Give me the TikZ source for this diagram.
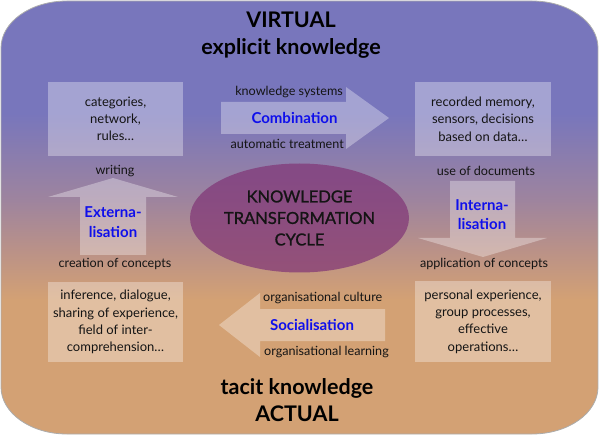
\documentclass[tikz,border=0pt]{standalone}
\usepackage{fontspec}
\setmainfont{Lato}
\newfontfamily\medfont{Lato}[FakeBold=1.2]
\usetikzlibrary{shapes.geometric}
\definecolor{bgA}{RGB}{120,118,188}
\definecolor{bgB}{RGB}{158,132,158}
\definecolor{bgC}{RGB}{187,146,135}
\definecolor{bgD}{RGB}{211,161,116}
\definecolor{txt}{RGB}{20,20,20}
\definecolor{lblue}{RGB}{15,15,235}
\definecolor{ellc}{RGB}{128,52,118}
\pgfdeclareverticalshading{bgshade}{100bp}{color(0bp)=(bgD); color(25bp)=(bgD); color(40.5bp)=(bgD); color(46bp)=(bgC); color(52bp)=(bgB); color(62bp)=(bgA); color(75bp)=(bgA); color(100bp)=(bgA)}
\begin{document}
\begin{tikzpicture}[x=1pt,y=-1pt,
  boxst/.style={fill=white, fill opacity=0.33, text opacity=1, draw=none, text=txt,
    align=center, font=\fontsize{13}{17.3}\selectfont, inner sep=0pt},
  arrowst/.style={fill=white, fill opacity=0.33, draw=none},
  lbl/.style={text=txt, font=\fontsize{12.6}{14}\selectfont, inner sep=0pt},
  blbl/.style={text=lblue, font=\fontsize{15}{19.5}\bfseries\selectfont, align=center, inner sep=0pt},
  ttl/.style={text=black, font=\fontsize{21.5}{27}\bfseries\selectfont, align=center, inner sep=0pt}]
\useasboundingbox (0,0) rectangle (599,435);
% background
\path[draw=gray!65, line width=0.8pt, shading=bgshade]
  (1,48) arc[start angle=180, end angle=90, x radius=66pt, y radius=47pt]
  -- (532,1) arc[start angle=90, end angle=0, x radius=66pt, y radius=47pt]
  -- (598,387) arc[start angle=0, end angle=-90, x radius=66pt, y radius=47pt]
  -- (67,434) arc[start angle=270, end angle=180, x radius=66pt, y radius=47pt]
  -- cycle;
% titles
\node[ttl] (top) at (291,35) {VIRTUAL\\explicit knowledge};
\node[ttl] (bot) at (297,400) {tacit knowledge\\ACTUAL};
% boxes
\node[boxst, minimum width=135pt, minimum height=74pt] (tl) at (115.5,119) {categories,\\network,\\rules…};
\node[boxst, minimum width=136pt, minimum height=74pt] (tr) at (483,119) {recorded memory,\\sensors, decisions\\based on data…};
\node[boxst, minimum width=135pt, minimum height=80pt] (bl) at (115.5,322) {inference, dialogue,\\sharing of experience,\\field of inter-\\comprehension…};
\node[boxst, minimum width=136pt, minimum height=81pt] (br) at (483,321.5) {personal experience,\\group processes,\\effective\\operations…};
% big arrows
\path[arrowst] (221,102) -- (346,102) -- (346,87) -- (389,118) -- (346,149) -- (346,134) -- (221,134) -- cycle;
\path[arrowst] (80,255) -- (80,197) -- (48,197) -- (113,178) -- (178,197) -- (146,197) -- (146,255) -- cycle;
\path[arrowst] (450,181) -- (515,181) -- (515,238) -- (547,238) -- (483,257) -- (418,238) -- (450,238) -- cycle;
\path[arrowst] (385,309) -- (260,309) -- (260,293) -- (219,325) -- (260,357) -- (260,341) -- (385,341) -- cycle;
% ellipse
\node[ellipse, minimum width=219pt, minimum height=109pt, fill=ellc, fill opacity=0.7, text opacity=1,
  text=txt, align=center, font=\medfont\fontsize{16.5}{21.5}\selectfont, inner sep=0pt] (ktc) at (299.5,218)
  {KNOWLEDGE\\TRANSFORMATION\\CYCLE};
% blue labels
\node[blbl] (comb) at (294.5,118) {Combination};
\node[blbl] (ext) at (113,222) {Externa-\\lisation};
\node[blbl] (int) at (482,214.5) {Interna-\\lisation};
\node[blbl] (soc) at (312,325) {Socialisation};
% small labels
\node[lbl, anchor=east] (ks) at (343,92) {knowledge systems};
\node[lbl, anchor=east] (at) at (344,144) {automatic treatment};
\node[lbl] (wr) at (115,171) {writing};
\node[lbl] (cc) at (115,264) {creation of concepts};
\node[lbl] (ud) at (486,171) {use of documents};
\node[lbl] (ac) at (484,264) {application of concepts};
\node[lbl, anchor=west] (oc) at (263,298) {organisational culture};
\node[lbl, anchor=west] (ol) at (264,352) {organisational learning};
\end{tikzpicture}
\end{document}
